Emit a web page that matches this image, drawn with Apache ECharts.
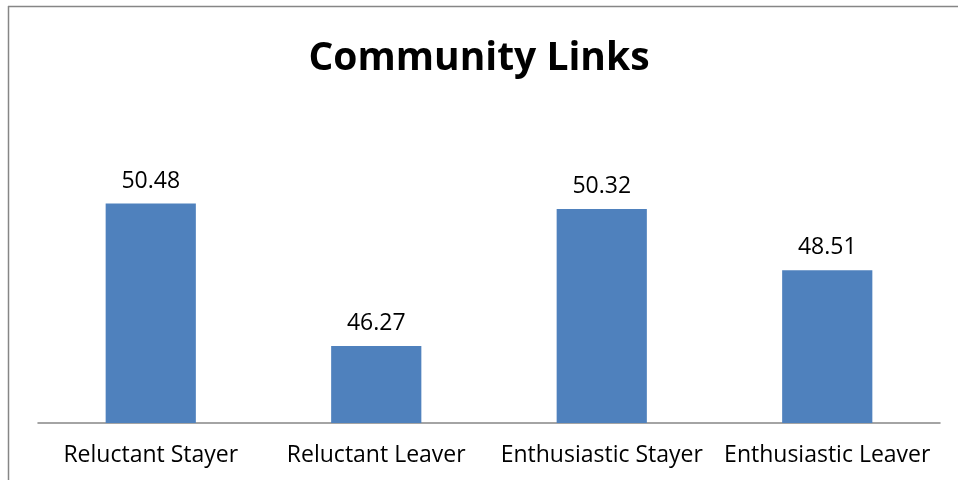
<!DOCTYPE html>
<html>
<head>
<meta charset="utf-8">
<script src="https://cdn.jsdelivr.net/npm/echarts@6/dist/echarts.min.js"></script>
<style>
  html, body { margin: 0; padding: 0; background: #fff; }
  #chart { width: 958px; height: 480px; }
</style>
</head>
<body>
<div id="chart"></div>
<script>
// Community Links scores by group
const categories = ['Reluctant Stayer', 'Reluctant Leaver', 'Enthusiastic Stayer', 'Enthusiastic Leaver'];
const values = [50.48, 46.27, 50.32, 48.51];
const titleText = 'Community Links';

const chart = echarts.init(document.getElementById('chart'));
const fontFamily = '"Open Sans", "Noto Sans", sans-serif';

chart.setOption({
  animation: false,
  backgroundColor: '#ffffff',
  title: {
    text: titleText,
    left: 'center',
    top: 34,
    textStyle: { fontFamily: fontFamily, fontSize: 39, fontWeight: 'bold', color: '#000' }
  },
  graphic: [
    { type: 'line', shape: { x1: 8, y1: 6.5, x2: 958, y2: 6.5 }, style: { stroke: '#868686', lineWidth: 1.5 } },
    { type: 'line', shape: { x1: 8.5, y1: 6, x2: 8.5, y2: 480 }, style: { stroke: '#868686', lineWidth: 1.5 } }
  ],
  grid: { left: 38, right: 18, top: 152, bottom: 57 },
  xAxis: {
    type: 'category',
    data: categories,
    axisLine: { lineStyle: { color: '#868686', width: 1.5 } },
    axisTick: { show: false },
    axisLabel: { color: '#000', fontFamily: fontFamily, fontSize: 23, margin: 21, interval: 0 }
  },
  yAxis: {
    type: 'value',
    min: 44,
    max: 52,
    show: false,
    splitLine: { show: false }
  },
  series: [{
    type: 'bar',
    data: values,
    barWidth: '40%',
    itemStyle: { color: '#4f81bd' },
    label: {
      show: true,
      position: 'top',
      distance: 11,
      color: '#000',
      fontFamily: fontFamily,
      fontSize: 23,
      formatter: p => p.value.toFixed(2)
    }
  }]
});
</script>
</body>
</html>
